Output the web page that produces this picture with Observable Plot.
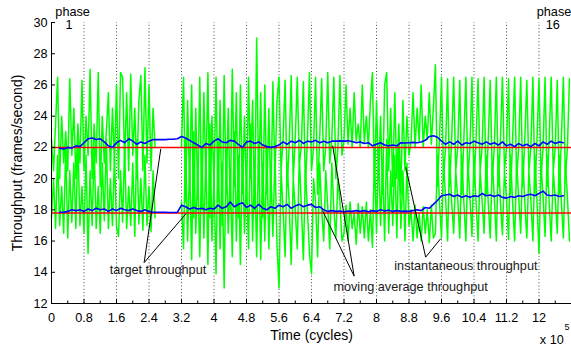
<!DOCTYPE html>
<html><head><meta charset="utf-8">
<script src="https://cdn.jsdelivr.net/npm/d3@7"></script>
<script src="https://cdn.jsdelivr.net/npm/@observablehq/plot@0.6"></script>
<style>html,body{margin:0;padding:0;background:#fff} #chart svg{display:block}</style>
</head><body><div id="chart"></div>
<script>
// ---- data (time in units of 10^5 cycles) ----
const xTicks = [0, 0.8, 1.6, 2.4, 3.2, 4, 4.8, 5.6, 6.4, 7.2, 8, 8.8, 9.6, 10.4, 11.2, 12];
const xMinorTicks = [0.4, 1.2, 2, 2.8, 3.6, 4.4, 5.2, 6, 6.8, 7.6, 8.4, 9.2, 10, 10.8, 11.6, 12.4];
const yTicks = [12, 14, 16, 18, 20, 22, 24, 26, 28, 30];
const targets = [22, 17.8];

// instantaneous throughput, samples every 0.05 (x10^5 cycles) from 0; null = no frames
const instStart = 0, instStep = 0.05;
const instUpper = [
  // phase 1-4
  22.5, 20.5, 23.5, 26.5, 20.0, 24.0, 21.0, 23.0, 20.5, 26.4, 21.5, 24.5, 20.0, 23.5, 21.0, 26.3,
  20.5, 24.0, 21.5, 27.0, 20.0, 23.5, 21.0, 26.8, 19.5, 24.0, 21.0, 23.0, 25.5, 20.5, 24.5, 21.0,
  26.0, 20.0, 26.8, 26.5, 21.0, 25.5, 20.5, 26.7, 21.5, 24.5, 20.0, 25.0, 26.6, 20.5, 27.1, 21.0,
  26.0, 20.5, 24.5, 22.0,
  null, null, null, null, null, null, null, null, null, null, null, null,
  // phase 5-7
  22.0, 26.5, 18.5, 25.0, 19.5, 26.0, 17.5, 24.5, 19.0, 26.5, 18.0, 25.5, 20.0, 26.8, 17.5, 24.0,
  19.5, 26.5, 18.5, 25.0, 17.0, 26.6, 19.0, 24.5, 18.0, 27.0, 19.5, 25.5, 17.5, 26.0, 19.0, 24.0,
  18.5, 26.5, 20.0, 25.0, 18.0, 29.0, 19.5, 25.5, 17.5, 26.0, 19.0, 24.5, 18.5, 26.2, 20.0, 25.0,
  // phase 8-9
  26.5, 20.5, 22.5, 26.3, 19.5, 22.0, 26.6, 20.0, 22.5, 26.5, 21.0, 22.0, 26.2, 19.5, 22.5, 26.8,
  20.5, 22.0, 26.5, 19.0, 22.5, 26.4, 20.5, 22.0, 26.8, 21.0, 22.5, 26.5, 20.0, 22.0, 26.6, 21.5,
  // phase 10
  22.5, 26.0, 22.2, 24.5, 22.0, 25.5, 22.4, 23.5, 22.0, 26.0, 22.3, 24.0, 22.0, 25.0,
  // phase 11
  26.8, 19.5, 25.0, 20.0, 24.0, 19.0, 26.0, 26.8, 20.5, 24.5, 19.5, 25.5, 20.0, 23.5, 19.0, 25.0,
  20.5, 24.0, 21.5,
  // phase 12
  22.3, 25.5, 22.0, 24.5, 22.4, 26.0, 22.0, 24.0, 22.5, 25.5, 22.2, 24.5,
  // phase 13-16
  27.3, 19.5, 22.5, 26.5, 20.0, 22.0, 26.4, 19.5, 22.5, 26.5, 20.5, 22.0, 26.3, 19.0, 22.5, 26.5,
  20.0, 22.0, 26.5, 19.5, 22.5, 26.4, 20.5, 22.0, 26.5, 19.0, 22.5, 26.3, 20.0, 22.0, 26.5, 19.5,
  22.5, 26.5, 20.5, 22.0, 26.4, 19.0, 22.5, 26.5, 20.0, 22.0, 26.5, 19.5, 22.5, 26.3, 20.5, 22.0,
  26.5, 19.0, 22.5, 26.4, 20.0, 22.0, 26.5, 19.5, 22.5, 26.5, 20.5, 22.0, 26.3, 19.0, 22.5, 26.5,
  20.0, 22.0, 26.4
];
const instLower = [
  17.5, 20.0, 16.8, 21.5, 17.0, 19.5, 16.5, 22.0, 16.2, 20.5, 17.2, 21.0, 16.8, 22.5, 17.0, 19.5,
  16.5, 21.5, 15.2, 20.5, 17.0, 22.0, 16.8, 19.5, 16.5, 21.0, 17.3, 22.5, 16.8, 20.0, 17.0, 21.5,
  16.9, 16.3, 20.5, 17.2, 22.0, 16.8, 19.5, 17.0, 21.0, 16.3, 22.5, 17.1, 20.0, 16.7, 21.5, 17.0,
  19.5, 16.6, 20.5, 17.5,
  null, null, null, null, null, null, null, null, null, null, null, null,
  18.5, 15.5, 22.5, 16.0, 21.0, 14.8, 23.0, 16.5, 20.5, 15.0, 22.0, 16.2, 21.5, 14.5, 23.5, 16.0,
  20.0, 13.9, 22.5, 15.5, 21.0, 13.0, 22.0, 16.5, 20.5, 15.0, 23.0, 16.0, 21.5, 14.5, 22.0, 16.5,
  20.0, 15.5, 23.5, 16.0, 21.0, 15.0, 22.5, 14.8, 21.0, 16.0, 22.0, 15.5, 20.5, 16.3, 21.5, 15.8,
  13.0, 20.5, 18.0, 15.0, 21.0, 18.5, 14.5, 20.0, 18.0, 15.5, 21.5, 18.2, 14.8, 20.5, 18.0, 15.2,
  13.9, 20.0, 18.5, 15.0, 21.0, 18.0, 16.0, 20.5, 18.2, 15.5, 21.0, 18.0, 16.2, 20.0, 18.5, 16.0,
  16.5, 18.3, 16.0, 18.5, 16.8, 17.8, 15.8, 18.4, 16.5, 18.2, 16.2, 18.5, 16.0, 18.0,
  15.6, 21.5, 16.5, 22.0, 17.0, 21.0, 16.0, 22.5, 16.5, 20.5, 17.0, 21.5, 16.2, 22.0, 16.8, 20.5,
  16.0, 21.0, 17.0,
  18.0, 16.0, 18.3, 16.2, 17.8, 16.0, 18.2, 16.5, 18.0, 15.9, 18.3, 16.2,
  16.5, 21.5, 18.5, 16.2, 21.0, 18.8, 16.0, 21.5, 18.5, 16.5, 20.5, 18.7, 16.2, 21.5, 18.5, 16.0,
  21.0, 18.8, 16.3, 21.5, 18.5, 16.0, 20.5, 18.6, 16.5, 21.5, 18.5, 16.2, 21.0, 18.8, 16.0, 21.5,
  18.5, 16.4, 20.5, 18.7, 16.1, 21.5, 18.5, 16.0, 21.0, 18.8, 16.5, 21.5, 18.5, 16.2, 20.5, 18.6,
  16.0, 21.5, 18.5, 15.2, 21.0, 18.8, 16.3, 21.5, 18.5, 16.0, 20.5, 18.7, 16.5, 21.5, 18.5, 16.2,
  21.0, 18.8, 16.0
];

// moving average throughput, samples every 0.1 from 0.2
const maStart = 0.2, maStep = 0.1;
const maUpper = [
  21.95, 21.9, 22.0, 21.95, 22.1, 22.05, 22.3, 22.55, 22.6, 22.5,
  22.55, 22.35, 22.1, 22.0, 22.3, 22.45, 22.3, 22.55, 22.4, 22.2,
  22.35, 22.25, 22.4, 22.5, 22.5, 22.5, 22.5, 22.52, 22.52, 22.55,
  22.7, 22.6, 22.45, 22.3, 22.15, 22.0, 22.25, 22.15, 22.4, 22.55,
  22.35, 22.3, 22.45, 22.4, 22.2, 22.0, 22.35, 22.4, 22.25, 22.35,
  22.15, 22.05, 22.0, 22.05, 22.15, 22.35, 22.2, 22.4, 22.3, 22.45,
  22.25, 22.4, 22.35, 22.45, 22.3, 22.4, 22.3, 22.4, 22.4, 22.42,
  22.4, 22.42, 22.38, 22.3, 22.35, 22.25, 22.3, 22.1, 22.2, 22.3,
  22.15, 22.1, 22.15, 22.1, 22.3, 22.28, 22.3, 22.32, 22.3, 22.35,
  22.45, 22.7, 22.75, 22.65, 22.4, 22.2, 22.35, 22.2, 22.4, 22.15,
  22.3, 22.25, 22.4, 22.3, 22.2, 22.35, 22.2, 22.3, 22.15, 22.35,
  22.1, 22.2, 22.05, 22.25, 22.1, 22.2, 22.05, 22.25, 22.1, 22.35,
  22.2, 22.4, 22.25, 22.35, 22.3
];
const maLower = [
  17.85, 17.85, 17.9, 18.0, 17.95, 18.0, 17.9, 18.05, 17.95, 18.1,
  18.0, 18.05, 17.9, 18.05, 17.95, 18.1, 18.0, 17.95, 18.05, 17.95,
  17.9, 18.0, 17.9, 17.85, 17.85, 17.85, 17.85, 17.83, 17.83, 17.85,
  18.3, 18.2, 18.05, 18.15, 18.05, 18.1, 18.0, 18.1, 18.05, 18.3,
  18.1, 18.2, 18.5, 18.2, 18.35, 18.45, 18.15, 18.3, 18.1, 18.35,
  18.1, 18.0, 18.2, 18.1, 18.3, 18.2, 18.35, 18.1, 18.25, 18.35,
  18.2, 18.3, 18.35, 18.15, 18.2, 18.0, 17.9, 17.95, 17.9, 17.92,
  17.88, 17.92, 17.9, 17.95, 17.9, 17.95, 17.88, 17.95, 17.9, 18.0,
  17.92, 17.98, 17.9, 17.95, 17.9, 17.92, 17.9, 17.95, 18.0, 17.95,
  18.15, 18.1, 18.35, 18.6, 18.9, 18.95, 19.0, 18.85, 18.95, 18.8,
  18.9, 18.8, 18.9, 18.85, 19.05, 18.9, 18.95, 18.85, 18.95, 18.8,
  18.75, 18.85, 18.8, 18.9, 18.85, 18.95, 19.0, 18.9, 19.05, 19.2,
  18.95, 18.9, 18.95, 18.85, 18.9
];

// annotation labels and the points their pointer lines reach
const labelTexts = ["target throughput", "moving average throughput", "instantaneous throughput"];
const labelAt = [[2.62, 14.15], [8.84, 13.05], [10.2, 14.43]];
const pointerFrom = [[2.28, 14.62], [2.28, 14.62], [7.45, 13.75], [7.45, 13.75], [9.21, 14.97], [9.21, 14.97]];
const pointerTo = [[2.69, 21.9], [3.31, 17.75], [6.92, 22.12], [6.67, 17.96], [8.72, 20.73], [9.58, 16.15]];
const phaseLabels = [{x: 0.52, n: "1", nx: 0.43}, {x: 12.37, n: "16", nx: 12.34}];

// ---- build tables ----
const toRows = (arr, x0, dx) => arr.map((v, i) => ({x: x0 + i * dx, y: v}));
const instU = toRows(instUpper, instStart, instStep);
const instL = toRows(instLower, instStart, instStep);
const maU = toRows(maUpper, maStart, maStep);
const maL = toRows(maLower, maStart, maStep);
const pointers = pointerFrom.map((p, i) => ({x1: p[0], y1: p[1], x2: pointerTo[i][0], y2: pointerTo[i][1]}));
const labels = labelTexts.map((t, i) => ({text: t, x: labelAt[i][0], y: labelAt[i][1]}));

const W = 571, H = 349, mL = 51, mR = 0, mT = 22, mB = 46;
const xDom = [0, 12.8], yDom = [12, 30];
const pxY = (yDom[1] - yDom[0]) / (H - mT - mB);
const pxX = (xDom[1] - xDom[0]) / (W - mL - mR);
const font = "'Liberation Sans', Arial, Helvetica, sans-serif";

const chart = Plot.plot({
  width: W, height: H,
  marginLeft: mL, marginRight: mR, marginTop: mT, marginBottom: mB,
  style: {fontFamily: font, fontSize: "12.7px", background: "white", color: "black", overflow: "visible"},
  x: {domain: xDom},
  y: {domain: yDom},
  marks: [
    Plot.ruleX(xTicks.filter(d => d > 0), {y1: yDom[0], y2: yDom[1], stroke: "#333", strokeWidth: 0.9, strokeDasharray: "1,2.3"}),
    Plot.line(instU, {x: "x", y: "y", stroke: "#00ff00", strokeWidth: 1.5}),
    Plot.line(instL, {x: "x", y: "y", stroke: "#00ff00", strokeWidth: 1.5}),
    Plot.ruleY(targets, {x1: 0, x2: 12.8, stroke: "#ff0000", strokeWidth: 1.5}),
    Plot.line(maU, {x: "x", y: "y", stroke: "#0000ff", strokeWidth: 1.6}),
    Plot.line(maL, {x: "x", y: "y", stroke: "#0000ff", strokeWidth: 1.6}),
    Plot.link(pointers, {x1: "x1", y1: "y1", x2: "x2", y2: "y2", stroke: "black", strokeWidth: 1}),
    Plot.text(labels, {x: "x", y: "y", text: "text", fill: "#1a1a1a", fontSize: 12.7}),
    // axes
    Plot.ruleX([0], {y1: yDom[0], y2: yDom[1], stroke: "black", strokeWidth: 1}),
    Plot.ruleY([12], {x1: xDom[0], x2: xDom[1], stroke: "black", strokeWidth: 1}),
    Plot.ruleX(xTicks, {y1: 12, y2: 12 + 4 * pxY, stroke: "black"}),
    Plot.ruleX(xMinorTicks, {y1: 12, y2: 12 + 2.5 * pxY, stroke: "black"}),
    Plot.ruleY(yTicks, {x1: 0, x2: 4 * pxX, stroke: "black"}),
    Plot.axisX({ticks: xTicks, tickSize: 0, tickPadding: 9, tickFormat: d => String(d), label: null, fontSize: 12.7}),
    Plot.axisY({ticks: yTicks, tickSize: 0, tickPadding: 4, label: null, fontSize: 12.7}),
    Plot.text(["Time (cycles)"], {frameAnchor: "bottom", textAnchor: "middle", lineAnchor: "middle", dy: 32, fontSize: 14, fill: "black"}),
    Plot.text(["Throughput (frames/second)"], {frameAnchor: "left", textAnchor: "middle", lineAnchor: "middle", dx: -33.5, rotate: -90, fontSize: 14, fill: "black"}),
    Plot.text(["x 10"], {x: [12.61], frameAnchor: "bottom", textAnchor: "end", lineAnchor: "middle", dy: 36, fontSize: 12.7, fill: "black"}),
    Plot.text(["5"], {x: [12.63], frameAnchor: "bottom", textAnchor: "start", lineAnchor: "middle", dy: 24, fontSize: 9, fill: "black"}),
    Plot.text(phaseLabels, {x: "x", text: () => "phase", frameAnchor: "top", lineAnchor: "middle", dy: -11, fontSize: 12.7, fill: "black"}),
    Plot.text(phaseLabels, {x: "nx", text: "n", frameAnchor: "top", lineAnchor: "middle", dy: 2.5, fontSize: 12.7, fill: "black"})
  ]
});
document.getElementById("chart").append(chart);
</script>
</body></html>
